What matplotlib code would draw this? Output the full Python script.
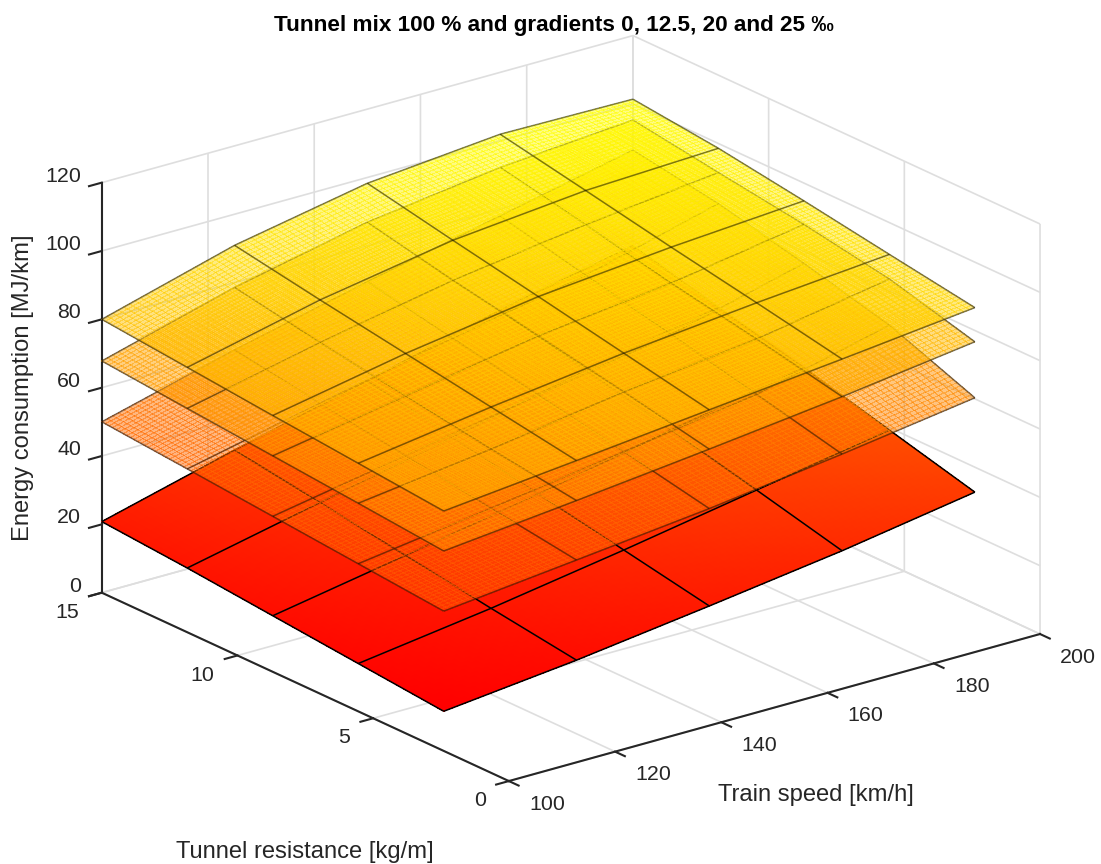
import numpy as np
import matplotlib
matplotlib.use("Agg")
import matplotlib.pyplot as plt
from matplotlib.transforms import Affine2D
from mpl_toolkits.mplot3d import proj3d

plt.rcParams['font.family'] = ['Liberation Sans', 'DejaVu Sans']

# ---------- data ----------
speed = [100, 125, 150, 175, 200]
resistance = [2.4, 5.55, 8.7, 11.85, 15]
# rows: resistance, columns: speed
grad_0 = [[11.6, 15.8, 20.9, 26.3, 32.7],
          [14.0, 19.4, 25.7, 32.5, 39.3],
          [16.4, 23.3, 30.5, 38.5, 46.0],
          [18.8, 27.2, 35.5, 44.5, 52.0],
          [20.8, 31.0, 40.5, 50.5, 58.5]]
grad_125 = [[40.9, 45.1, 49.4, 54.6, 60.3],
            [43.2, 48.7, 54.5, 60.5, 70.0],
            [45.5, 52.5, 59.5, 66.5, 76.5],
            [47.8, 56.3, 64.5, 72.2, 82.4],
            [50.0, 60.3, 69.5, 78.0, 86.5]]
grad_20 = [[58.5, 62.5, 66.8, 71.4, 76.7],
           [60.9, 66.0, 72.0, 76.7, 83.5],
           [63.2, 70.0, 76.8, 81.5, 87.9],
           [65.5, 74.0, 81.5, 87.0, 91.5],
           [67.8, 78.6, 86.9, 92.2, 95.3]]
grad_25 = [[70.2, 74.2, 78.3, 82.4, 86.7],
           [72.6, 78.3, 83.3, 87.3, 90.7],
           [75.0, 82.4, 88.3, 92.0, 94.8],
           [77.5, 86.5, 93.2, 97.0, 98.6],
           [80.0, 90.9, 98.3, 101.9, 101.4]]
speed_ticks = [100, 120, 140, 160, 180, 200]
resistance_ticks = [0, 5, 10, 15]
energy_ticks = [0, 20, 40, 60, 80, 100, 120]
title = "Tunnel mix 100 % and gradients 0, 12.5, 20 and 25 ‰"
speed_label = "Train speed [km/h]"
resistance_label = "Tunnel resistance [kg/m]"
energy_label = "Energy consumption [MJ/km]"

W, H = 1101, 864
DARK = (0.15, 0.15, 0.15)
fig = plt.figure(figsize=(W / 100, H / 100), dpi=100)
ax = fig.add_axes([0.1, 0.1, 0.8, 0.8], projection='3d', computed_zorder=False)
ax.set_proj_type('ortho')
ax.set_xlim(100, 200)
ax.set_ylim(0, 15)
ax.set_zlim(0, 120)
ax.set_box_aspect((671.3, 665.2, 439.0))
ax.view_init(elev=20.97, azim=-127.72)

# place the axes so the box corners land where the reference has them
anchors = [((100, 0, 0), (509, 781)), ((200, 0, 0), (1040, 634)),
           ((100, 15, 0), (101.7, 592.7)), ((100, 15, 120), (101.7, 182.7))]
M = ax.get_proj()
Pm = np.array([proj3d.proj_transform(*a[0], M)[:2] for a in anchors])
Pp = np.array([[a[1][0], H - a[1][1]] for a in anchors], float)
x0, x1 = ax.viewLim.intervalx
y0, y1 = ax.viewLim.intervaly
fx = (Pm[:, 0] - x0) / (x1 - x0)
fy = (Pm[:, 1] - y0) / (y1 - y0)
A = np.vstack([np.c_[fx, np.ones(4), np.zeros(4)], np.c_[fy, np.zeros(4), np.ones(4)]])
S, l, b = np.linalg.lstsq(A, np.r_[Pp[:, 0], Pp[:, 1]], rcond=None)[0]
ax.set_position([l / W, b / H, S / W, S / H])

# ---------- axes styling ----------
for axis in (ax.xaxis, ax.yaxis, ax.zaxis):
    axis.set_pane_color((1, 1, 1, 0))
    axis.pane.set_edgecolor((1, 1, 1, 0))
    axis._axinfo['grid'].update(color=(0.87, 0.87, 0.87), linewidth=1.2)
    axis._axinfo['tick'].update(inward_factor=0.3, outward_factor=0.0, linewidth={True: 1.5, False: 1.0})
    axis._axinfo['axisline'].update(color=DARK, linewidth=1.5)
    axis.line.set_color(DARK)
    axis.line.set_linewidth(1.5)
ax.set_xticks(speed_ticks)
ax.set_yticks(resistance_ticks)
ax.set_zticks(energy_ticks)
ax.tick_params(labelsize=15.4, colors=DARK, pad=6)


def nudge_labels(axis, dx, dy, ha):
    """Axis3D resets tick-label transforms on every tick update; add a pixel offset after it."""
    original = axis.get_major_ticks

    def patched(numticks=None):
        ticks = original(numticks)
        for t in ticks:
            t.label1.set_transform(ax.transData + Affine2D().translate(dx, dy))
            t.label1.set_horizontalalignment(ha)
        return ticks
    axis.get_major_ticks = patched


nudge_labels(ax.xaxis, 23, 8.5, 'center')
nudge_labels(ax.yaxis, -3.5, 10.5, 'right')
nudge_labels(ax.zaxis, 14, 14.5, 'right')

fig.text(816 / W, 1 - 795 / H, speed_label, ha='center', va='center', fontsize=17.1, color=DARK)
fig.text(305 / W, 1 - 852 / H, resistance_label, ha='center', va='center', fontsize=17.1, color=DARK)
fig.text(23 / W, 1 - 388 / H, energy_label, ha='center', va='center', rotation=90, fontsize=17.1, color=DARK)
fig.text(554 / W, 1 - 25 / H, title, ha='center', va='center', fontsize=16.2, fontweight='bold', color='black')

# ---------- surfaces ----------
layers = [(grad_0, 1.0), (grad_125, 0.5), (grad_20, 0.5), (grad_25, 0.5)]
vmin = np.min(grad_0)
vmax = np.max(grad_25)
SX, SY = np.meshgrid(speed, resistance)
n = 24  # facets per grid cell, used only to imitate smooth colour shading


def fine(grid):
    g = np.asarray(grid, float)
    u = np.linspace(0, len(speed) - 1, (len(speed) - 1) * n + 1)
    v = np.linspace(0, len(resistance) - 1, (len(resistance) - 1) * n + 1)
    rows = np.array([np.interp(u, np.arange(g.shape[1]), r) for r in g])
    return np.array([np.interp(v, np.arange(g.shape[0]), c) for c in rows.T]).T


for k, (grid, alpha) in enumerate(layers):
    Zf = fine(grid)
    Xf = fine(SX)
    Yf = fine(SY)
    ax.plot_surface(Xf, Yf, Zf, rcount=Zf.shape[0], ccount=Zf.shape[1], cmap='autumn',
                    vmin=vmin, vmax=vmax, alpha=alpha, shade=False, linewidth=0,
                    edgecolor='none', antialiased=False, zorder=10 + 2 * k)
    ax.plot_wireframe(SX, SY, np.asarray(grid, float), color='black', linewidth=1.1,
                      alpha=alpha, zorder=11 + 2 * k)

fig.savefig("out.png", dpi=100)
